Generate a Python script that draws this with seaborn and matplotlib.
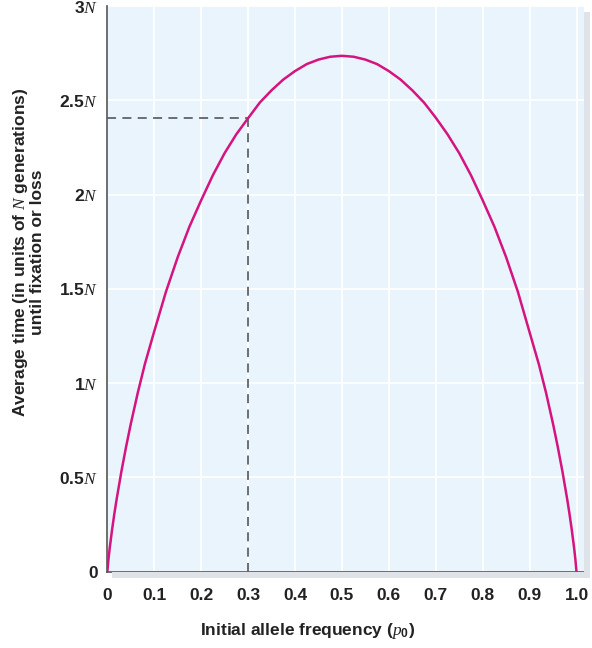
import matplotlib
matplotlib.use("Agg")
import matplotlib.pyplot as plt
import seaborn as sns
import pandas as pd
from matplotlib.patches import Rectangle

# Data
p0 = [0, 0.0025, 0.005, 0.01, 0.015, 0.02, 0.03, 0.04, 0.05, 0.065, 0.08,
      0.1, 0.125, 0.15, 0.175, 0.2, 0.225, 0.25, 0.275, 0.3, 0.325, 0.35,
      0.375, 0.4, 0.425, 0.45, 0.475, 0.5, 0.525, 0.55, 0.575, 0.6, 0.625,
      0.65, 0.675, 0.7, 0.725, 0.75, 0.775, 0.8, 0.825, 0.85, 0.875, 0.9,
      0.92, 0.935, 0.95, 0.96, 0.97, 0.98, 0.985, 0.99, 0.995, 0.9975, 1.0]
avg_time = [0, 0.069, 0.124, 0.221, 0.308, 0.387, 0.532, 0.663, 0.784, 0.950, 1.101,
            1.275, 1.485, 1.668, 1.830, 1.970, 2.103, 2.220, 2.320, 2.405, 2.488, 2.553,
            2.610, 2.655, 2.692, 2.716, 2.731, 2.736, 2.731, 2.716, 2.692, 2.655, 2.610,
            2.553, 2.488, 2.408, 2.320, 2.220, 2.103, 1.970, 1.830, 1.668, 1.485, 1.270,
            1.098, 0.950, 0.784, 0.663, 0.532, 0.387, 0.308, 0.221, 0.124, 0.069, 0]
marker_p = 0.3
marker_t = 2.404
xticks = [0, 0.1, 0.2, 0.3, 0.4, 0.5, 0.6, 0.7, 0.8, 0.9, 1.0]
xticklabels = ["0", "0.1", "0.2", "0.3", "0.4", "0.5", "0.6", "0.7", "0.8", "0.9", "1.0"]
yticks = [0, 0.5, 1, 1.5, 2, 2.5, 3]
yticklabels = ["0", r"0.5$\mathit{N}$", r"1$\mathit{N}$", r"1.5$\mathit{N}$",
               r"2$\mathit{N}$", r"2.5$\mathit{N}$", r"3$\mathit{N}$"]

sns.set_theme(style="white")
plt.rcParams['font.family'] = ['Liberation Sans', 'DejaVu Sans']
plt.rcParams['mathtext.fontset'] = 'custom'
plt.rcParams['mathtext.it'] = 'Liberation Serif:italic'
plt.rcParams['mathtext.rm'] = 'Liberation Sans:bold'

df = pd.DataFrame({"p0": p0, "t": avg_time})

fig = plt.figure(figsize=(5.92, 6.48), dpi=100)
ax = fig.add_axes([0.1813, 0.1177, 0.8052, 0.873])
bg = "#EAF4FC"
ax.set_facecolor(bg)

# drop shadow on right and bottom
fig.patches.append(Rectangle((0.9865, 0.108), 0.01, 0.874, transform=fig.transFigure,
                             facecolor="#DFE3E9", edgecolor="none", zorder=0))
fig.patches.append(Rectangle((0.19, 0.108), 0.8065, 0.0097, transform=fig.transFigure,
                             facecolor="#DFE3E9", edgecolor="none", zorder=0))

ax.grid(True, color="white", linewidth=1.3)
ax.set_axisbelow(True)

sns.lineplot(data=df, x="p0", y="t", ax=ax, color="#D4147F", linewidth=1.8,
             sort=False, zorder=4)
for ln in ax.lines:
    ln.set_solid_joinstyle("round")

ax.plot([0, marker_p], [marker_t, marker_t], color="#5F6368", linewidth=1.3,
        dashes=(5, 3.5), zorder=3)
ax.plot([marker_p, marker_p], [0, marker_t], color="#5F6368", linewidth=1.3,
        dashes=(5, 3.5), zorder=3)

ax.set_xlim(0, 1.016)
ax.set_ylim(0, 3)
ax.set_xticks(xticks)
ax.set_xticklabels(xticklabels, fontsize=12.5, fontweight="bold", color="#222222")
ax.set_yticks(yticks)
ax.set_yticklabels(yticklabels, fontsize=12.5, fontweight="bold", color="#222222")
ax.tick_params(axis="both", direction="in", length=8.5, width=1.1, color="#333333")
ax.tick_params(axis="x", pad=12)
ax.tick_params(axis="y", pad=7)

for s in ["top", "right"]:
    ax.spines[s].set_visible(False)
for s in ["left", "bottom"]:
    ax.spines[s].set_color("#555555")
    ax.spines[s].set_linewidth(1.2)

ax.set_xlabel(r"Initial allele frequency ($\mathit{p}_0$)", fontsize=12.5,
              fontweight="bold", color="#222222")
ax.xaxis.set_label_coords(0.42, -0.087)
ax.set_ylabel("Average time (in units of $\\mathit{N}$ generations)\nuntil fixation or loss",
              fontsize=12.5, fontweight="bold", color="#222222",
              linespacing=1.0)
ax.yaxis.set_label_coords(-0.131, 0.565)

fig.savefig("out.png", dpi=100, facecolor="white")
